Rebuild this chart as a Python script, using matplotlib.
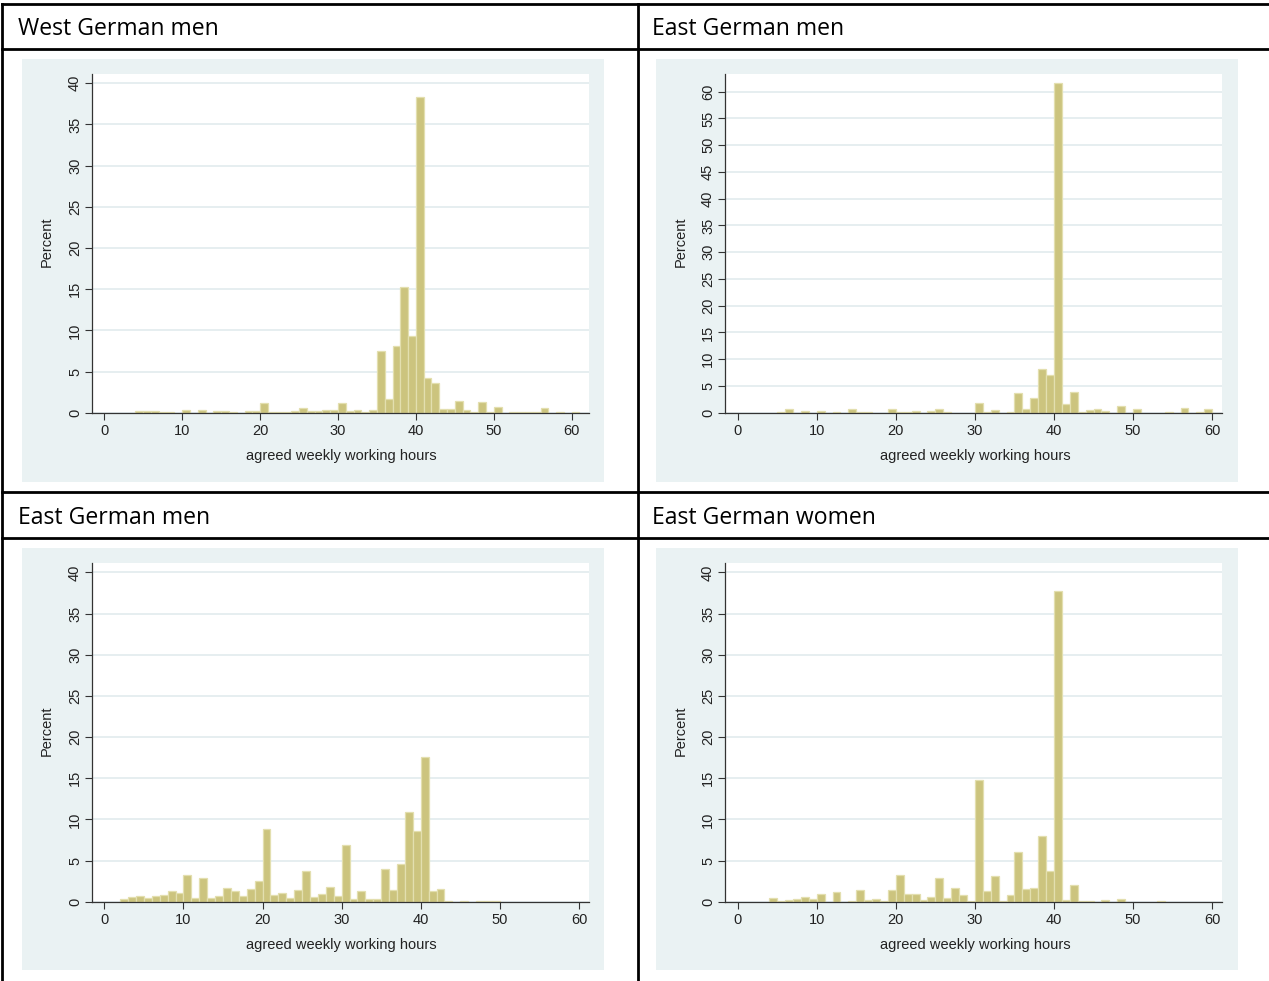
import matplotlib
matplotlib.use("Agg")
import matplotlib.pyplot as plt
from matplotlib.lines import Line2D
import numpy as np

W, H = 1269, 981
DPI = 100

hours = list(range(61))

west_men = [0, 0, 0, 0, 0.16, 0.24, 0.16, 0.12, 0.12, 0, 0.28, 0, 0.32, 0, 0.16, 0.16, 0.12, 0, 0.2, 0.24,
            1.17, 0.12, 0.12, 0.12, 0.2, 0.53, 0.2, 0.2, 0.36, 0.36, 1.17, 0.2, 0.32, 0.08, 0.36, 7.53, 1.66, 8.1, 15.3, 9.27,
            38.3, 4.17, 3.56, 0.4, 0.4, 1.46, 0.28, 0.08, 1.34, 0.08, 0.73, 0, 0.08, 0.08, 0.08, 0.08, 0.53, 0, 0.12, 0,
            0.12]
east_men_a = [0, 0, 0, 0, 0, 0.12, 0.69, 0, 0.25, 0, 0.31, 0, 0.12, 0, 0.62, 0.12, 0.12, 0, 0, 0.69,
              0.19, 0.19, 0.25, 0, 0.37, 0.62, 0.19, 0, 0, 0, 1.74, 0.12, 0.5, 0, 0.12, 3.61, 0.69, 2.8, 8.1, 7.1,
              61.7, 1.62, 3.86, 0.19, 0.5, 0.69, 0.37, 0, 1.31, 0, 0.75, 0, 0, 0, 0.19, 0, 0.87, 0, 0.19, 0.62,
              0]
east_men_b = [0, 0, 0.32, 0.61, 0.69, 0.45, 0.69, 0.81, 1.3, 1.01, 3.24, 0.4, 2.83, 0.49, 0.73, 1.66, 1.26, 0.69, 1.5, 2.51,
              8.87, 0.77, 1.05, 0.4, 1.42, 3.77, 0.53, 0.93, 1.82, 0.73, 6.84, 0.36, 1.34, 0.32, 0.36, 3.93, 1.46, 4.62, 10.85, 8.62,
              17.53, 1.3, 1.54, 0.12, 0, 0.12, 0, 0.12, 0.08, 0.08, 0, 0, 0, 0, 0, 0, 0, 0, 0, 0,
              0]
east_women = [0, 0, 0, 0, 0.45, 0.12, 0.2, 0.28, 0.53, 0.28, 0.89, 0, 1.17, 0, 0.08, 1.42, 0.2, 0.32, 0.12, 1.46,
              3.24, 0.93, 0.93, 0.2, 0.57, 2.87, 0.45, 1.7, 0.81, 0.12, 14.82, 1.26, 3.08, 0.12, 0.77, 6.03, 1.54, 1.66, 7.98, 3.68,
              37.73, 0.24, 2.02, 0.12, 0.12, 0, 0.2, 0, 0.28, 0, 0, 0, 0, 0.08, 0, 0, 0, 0, 0, 0,
              0]

titles = ["West German men", "East German men", "East German men", "East German women"]
series = [west_men, east_men_a, east_men_b, east_women]
x_ticks = [0, 10, 20, 30, 40, 50, 60]
y_ticks_small = list(range(0, 41, 5))
y_ticks_big = list(range(0, 61, 5))
x_label = "agreed weekly working hours"
y_label = "Percent"

BG = "#EAF2F3"
BAR = "#CCC47E"
BAR_EDGE = "#E3DFAF"
GRID = "#E4EDEF"
AXC = "#333333"

fig = plt.figure(figsize=(W / DPI, H / DPI), dpi=DPI)
fig.patch.set_facecolor("white")

def fx(x):
    return x / W

def fy(y):
    return 1 - y / H

panels = [
    dict(bg=(22, 59, 604, 482), plot=(91.7, 74, 589, 412.7), xlim=(-1.62, 62.22), ylim=(0, 41.13), yt=y_ticks_small),
    dict(bg=(656, 59, 1238, 482), plot=(724.7, 74, 1221.7, 412.7), xlim=(-1.64, 61.2), ylim=(0, 63.3), yt=y_ticks_big),
    dict(bg=(22, 548, 604, 970), plot=(91.7, 563.3, 589, 901.7), xlim=(-1.6, 61.27), ylim=(0, 41.1), yt=y_ticks_small),
    dict(bg=(656, 548, 1238, 970), plot=(724.7, 563.3, 1221.7, 901.7), xlim=(-1.64, 61.2), ylim=(0, 41.1), yt=y_ticks_small),
]
header_pos = [(18, 29), (652, 29), (18, 518), (652, 518)]

for i, p in enumerate(panels):
    x0, y0, x1, y1 = p["bg"]
    bg = plt.Rectangle((fx(x0), fy(y1)), fx(x1 - x0), (y1 - y0) / H, transform=fig.transFigure,
                       facecolor=BG, edgecolor="none", zorder=0)
    fig.add_artist(bg)
    px0, py0, px1, py1 = p["plot"]
    ax = fig.add_axes([fx(px0), fy(py1), fx(px1 - px0), (py1 - py0) / H])
    ax.set_facecolor("white")
    vals = np.array(series[i], dtype=float)
    hrs = np.array(hours)
    m = vals > 0
    ax.bar(hrs[m], vals[m], width=1.0, align="edge", color=BAR, edgecolor=BAR_EDGE, linewidth=0.9, zorder=3)
    ax.set_xlim(*p["xlim"])
    ax.set_ylim(*p["ylim"])
    ax.set_xticks(x_ticks)
    ax.set_yticks(p["yt"])
    ax.set_yticklabels([str(v) for v in p["yt"]], rotation=90, va="center")
    for v in p["yt"]:
        ax.axhline(v, color=GRID, linewidth=1.3, zorder=1)
    for s in ["top", "right"]:
        ax.spines[s].set_visible(False)
    for s in ["left", "bottom"]:
        ax.spines[s].set_color(AXC)
        ax.spines[s].set_linewidth(0.9)
        ax.spines[s].set_zorder(4)
    ax.tick_params(axis="both", direction="out", length=5, width=0.8, color=AXC,
                   labelsize=10.5, labelcolor="#222222")
    ax.tick_params(axis="x", pad=3)
    ax.tick_params(axis="y", pad=2)
    for lab in ax.get_xticklabels() + ax.get_yticklabels():
        lab.set_fontfamily("Liberation Sans")
    fig.text(fx(341.5 if i % 2 == 0 else 975), fy(py1 + 43.5), x_label, ha="center", va="center",
             fontsize=10.5, family="Liberation Sans", color="#222222")
    fig.text(fx(46.5 if i % 2 == 0 else 680.5), fy((py0 + py1) / 2 - 1.5), y_label, ha="center", va="center",
             rotation=90, fontsize=10.5, family="Liberation Sans", color="#222222")
    hx, hy = header_pos[i]
    fig.text(fx(hx), fy(hy), titles[i], ha="left", va="center", fontsize=16.6,
             family="Open Sans", color="black")

lw = 2.0
for y in [3.5, 48.5, 492, 537.5]:
    fig.add_artist(Line2D([fx(2), 1], [fy(y), fy(y)], transform=fig.transFigure, color="black", linewidth=lw))
for x in [2, 637.5]:
    fig.add_artist(Line2D([fx(x), fx(x)], [fy(3.5), 0], transform=fig.transFigure, color="black", linewidth=lw))

fig.savefig("out.png", dpi=DPI)
